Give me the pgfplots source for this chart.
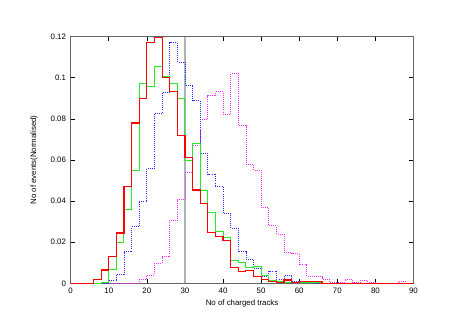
\documentclass[border=0pt]{standalone}
\usepackage{fontspec}
\setmainfont{Liberation Sans}
\usepackage{pgfplots}
\pgfplotsset{compat=1.18}

% histograms, left bin edges, bin width 2
\pgfplotstableread{
x y
0 0
6 0.002
8 0.0065
10 0.013
12 0.0245
14 0.047
16 0.078
18 0.090
20 0.117
22 0.1198
24 0.100
26 0.0935
28 0.072
30 0.0612
32 0.0454
34 0.039
36 0.0246
38 0.0227
40 0.021
42 0.0078
44 0.0057
46 0.0061
48 0.0032
50 0.002
52 0.001
54 0.0006
56 0.0016
58 0.0006
60 0.0008
62 0.0008
64 0.0008
66 0
90 0
}\redhist

\pgfplotstableread{
x y
0 0
8 0.0005
10 0.0068
12 0.020
14 0.036
16 0.055
18 0.0973
20 0.0957
22 0.1057
24 0.1005
26 0.097
28 0.090
30 0.060
32 0.068
34 0.045
36 0.0344
38 0.025
40 0.0224
42 0.0113
44 0.0102
46 0.0078
48 0.0081
50 0.0036
52 0.0013
54 0.0008
56 0.0003
58 0.0003
60 0.0002
62 0.0002
64 0.0002
66 0
90 0
}\greenhist

\pgfplotstableread{
x y
0 0
10 0.0013
12 0.0045
14 0.0154
16 0.0276
18 0.040
20 0.056
22 0.0827
24 0.093
26 0.117
28 0.1075
30 0.0962
32 0.0889
34 0.0633
36 0.0532
38 0.047
40 0.034
42 0.0268
44 0.0154
46 0.0117
48 0.0073
50 0.0032
52 0.006
54 0.0019
56 0.0037
58 0.001
60 0.0003
62 0.0003
64 0
90 0
}\bluehist

\pgfplotstableread{
x y
0 0
18 0.002
20 0.004
22 0.0097
24 0.013
26 0.0308
28 0.0407
30 0.054
32 0.067
34 0.0798
36 0.0913
38 0.0932
40 0.0824
42 0.1022
44 0.0767
46 0.058
48 0.0551
50 0.037
52 0.028
54 0.024
56 0.0152
58 0.0146
60 0.009
62 0.0035
64 0.0033
66 0.002
68 0.0003
70 0.0007
72 0.002
74 0.0003
76 0.0013
78 0.0003
80 0
86 0.001
88 0
90 0
}\magentahist

\definecolor{cutgray}{RGB}{170,182,188}
\definecolor{hgreen}{RGB}{40,235,40}
\definecolor{hblue}{RGB}{40,40,255}
\definecolor{hmag}{RGB}{245,40,245}

\begin{document}
\begin{tikzpicture}
\begin{axis}[
    width=257.1pt, height=185pt, scale only axis,
    xmin=0, xmax=90, ymin=0, ymax=0.12,
    xtick={0,10,20,30,40,50,60,70,80,90},
    ytick={0,0.02,0.04,0.06,0.08,0.1,0.12},
    scaled y ticks=false,
    yticklabel style={/pgf/number format/fixed, /pgf/number format/precision=2},
    /pgf/number format/assume math mode=true,
    tick pos=both, tick align=inside,
    major tick length=3pt,
    axis line style={black!60, line width=0.8pt},
    tick style={black, line width=0.5pt},
    tick label style={font=\fontsize{5.9}{7}\selectfont},
    label style={font=\fontsize{5.9}{7}\selectfont},
    xlabel={No of charged tracks},
    ylabel={No of events(Normalised)},
    xlabel style={at={(axis description cs:0.5,-0.081)}, anchor=center},
    ylabel style={at={(axis description cs:-0.107,0.5)}, anchor=center},
    clip=true,
]
\addplot[cutgray, line width=1.3pt] coordinates {(30,0) (30,0.12)};
\addplot[hmag, densely dotted, line width=0.55pt, const plot] table[x=x,y=y] {\magentahist};
\addplot[hblue, densely dotted, line width=0.55pt, const plot] table[x=x,y=y] {\bluehist};
\addplot[hgreen, line width=0.75pt, const plot] table[x=x,y=y] {\greenhist};
\addplot[red, line width=0.85pt, const plot] table[x=x,y=y] {\redhist};
\end{axis}
\pgfresetboundingbox
\path ([xshift=-53pt,yshift=-35.8pt]current axis.south west) rectangle ([xshift=40.9pt,yshift=27.5pt]current axis.north east);
\end{tikzpicture}
\end{document}
